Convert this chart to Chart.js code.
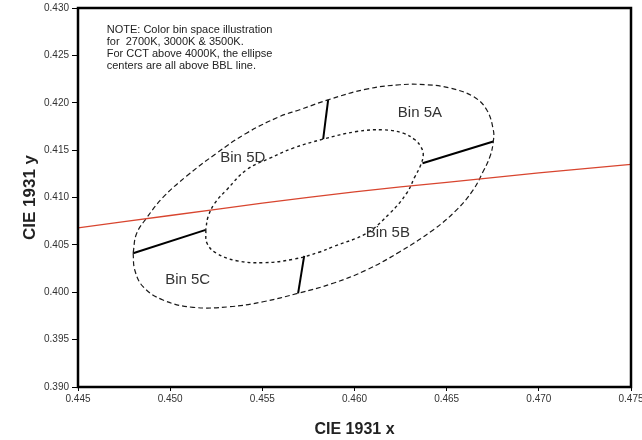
<!DOCTYPE html>
<html>
<head>
<meta charset="utf-8">
<script src="https://cdn.jsdelivr.net/npm/chart.js@4/dist/chart.umd.min.js"></script>
<style>
  html, body { margin: 0; padding: 0; background: #fff; }
  #wrap { width: 642px; height: 440px; }
</style>
</head>
<body>
<div id="wrap"><canvas id="c" width="642" height="440"></canvas></div>
<script>
// Black-body (Planckian) locus through this region of the CIE 1931 diagram
const bblX = [0.445, 0.450, 0.455, 0.460, 0.465, 0.470, 0.475];
const bblY = [0.4068, 0.4081, 0.4094, 0.4106, 0.4116, 0.4126, 0.4135];

// Outer ellipse outline (closed)
const outerX = [0.44799, 0.44808, 0.44853, 0.44961, 0.45124, 0.45323, 0.45504, 0.45694, 0.45884, 0.46065,
                0.46246, 0.46427, 0.46554, 0.46644, 0.46697, 0.46735, 0.46753, 0.46753, 0.46717, 0.46644,
                0.46518, 0.46391, 0.46246, 0.46065, 0.45857, 0.45703, 0.45595, 0.45414, 0.45251, 0.45088,
                0.44961, 0.44871, 0.44817, 0.44799];
const outerY = [0.40412, 0.40235, 0.40059, 0.39918, 0.39841, 0.39847, 0.39900, 0.39989, 0.40095, 0.40235,
                0.40428, 0.40658, 0.40869, 0.41080, 0.41271, 0.41432, 0.41591, 0.41714, 0.41926, 0.42066,
                0.42155, 0.42190, 0.42190, 0.42144, 0.42031, 0.41926, 0.41855, 0.41679, 0.41466, 0.41224,
                0.41001, 0.40781, 0.40615, 0.40412];

// Inner ellipse outline (closed)
const innerX = [0.45193, 0.45200, 0.45251, 0.45360, 0.45504, 0.45667, 0.45812, 0.45884, 0.46065, 0.46192,
                0.46283, 0.46328, 0.46355, 0.46373, 0.46360, 0.46328, 0.46264, 0.46156, 0.46011, 0.45830,
                0.45667, 0.45541, 0.45414, 0.45306, 0.45242, 0.45206, 0.45193];
const innerY = [0.40658, 0.40517, 0.40412, 0.40333, 0.40312, 0.40348, 0.40425, 0.40481, 0.40623, 0.40834,
                0.41045, 0.41221, 0.41323, 0.41450, 0.41535, 0.41609, 0.41679, 0.41714, 0.41696, 0.41616,
                0.41521, 0.41415, 0.41292, 0.41080, 0.40940, 0.40798, 0.40658];

// Bin dividers: [x0, y0, x1, y1]
const dividerLeft   = [0.44799, 0.40412, 0.45193, 0.40658];
const dividerTop    = [0.45857, 0.42031, 0.45830, 0.41616];
const dividerRight  = [0.46369, 0.41362, 0.46753, 0.41591];
const dividerBottom = [0.45694, 0.39989, 0.45727, 0.40383];

// Bin names and where they sit (data coordinates)
const binNames = ['Bin 5A', 'Bin 5B', 'Bin 5C', 'Bin 5D'];
const binNameX = [0.46355, 0.46181, 0.45095, 0.45394];
const binNameY = [0.41894, 0.40626, 0.40129, 0.41418];

// Note text, anchored at its top-left line
const noteLines = [
  'NOTE: Color bin space illustration',
  'for  2700K, 3000K & 3500K.',
  'For CCT above 4000K, the ellipse',
  'centers are all above BBL line.'
];
const noteX = 0.44656;
const noteY = 0.42771;

const FONT = "'Liberation Sans', Arial, Helvetica, sans-serif";

function pts(xs, ys) { return xs.map((x, i) => ({ x: x, y: ys[i] })); }
function seg(s) { return [{ x: s[0], y: s[1] }, { x: s[2], y: s[3] }]; }

const lineBase = { showLine: true, pointRadius: 0, pointHoverRadius: 0, fill: false };

const datasets = [
  Object.assign({}, lineBase, { label: 'BBL', data: pts(bblX, bblY), borderColor: '#d8452f', borderWidth: 1.3, tension: 0.3 }),
  Object.assign({}, lineBase, { label: 'outer', data: pts(outerX, outerY), borderColor: '#1a1a1a', borderWidth: 1.2, borderDash: [5, 3], tension: 0.4 }),
  Object.assign({}, lineBase, { label: 'inner', data: pts(innerX, innerY), borderColor: '#1a1a1a', borderWidth: 1.4, borderDash: [3, 3], tension: 0.4 }),
  Object.assign({}, lineBase, { label: 'd1', data: seg(dividerLeft), borderColor: '#000', borderWidth: 2 }),
  Object.assign({}, lineBase, { label: 'd2', data: seg(dividerTop), borderColor: '#000', borderWidth: 2 }),
  Object.assign({}, lineBase, { label: 'd3', data: seg(dividerRight), borderColor: '#000', borderWidth: 2 }),
  Object.assign({}, lineBase, { label: 'd4', data: seg(dividerBottom), borderColor: '#000', borderWidth: 2 })
];

// Frame around the plot plus the free text
const decorations = {
  id: 'decorations',
  afterDatasetsDraw(chart) {
    const { ctx, chartArea: a, scales: { x, y } } = chart;
    ctx.save();
    ctx.strokeStyle = '#000';
    ctx.lineWidth = 2.5;
    ctx.strokeRect(a.left, a.top, a.right - a.left, a.bottom - a.top);

    ctx.fillStyle = '#333';
    ctx.font = '15px ' + FONT;
    ctx.textAlign = 'center';
    ctx.textBaseline = 'middle';
    binNames.forEach((t, i) => {
      ctx.fillText(t, x.getPixelForValue(binNameX[i]), y.getPixelForValue(binNameY[i]));
    });

    ctx.fillStyle = '#222';
    ctx.font = '11px ' + FONT;
    ctx.textAlign = 'left';
    const nx = x.getPixelForValue(noteX);
    const ny = y.getPixelForValue(noteY);
    noteLines.forEach((t, i) => ctx.fillText(t, nx, ny + i * 12));
    ctx.restore();
  }
};

new Chart(document.getElementById('c'), {
  type: 'scatter',
  data: { datasets: datasets },
  options: {
    responsive: false,
    animation: false,
    devicePixelRatio: 1,
    layout: { padding: { top: 8, right: 11, left: 0, bottom: 0 } },
    plugins: { legend: { display: false }, tooltip: { enabled: false } },
    scales: {
      x: {
        type: 'linear',
        min: 0.445, max: 0.475,
        afterFit(s) { s.height = 53; s.paddingLeft = 0; s.paddingRight = 0; },
        ticks: {
          stepSize: 0.005,
          color: '#333',
          font: { family: FONT, size: 10 },
          padding: 2,
          maxRotation: 0,
          autoSkip: false,
          callback: v => v.toFixed(3)
        },
        grid: { drawOnChartArea: false, drawTicks: true, tickLength: 4, color: '#000' },
        border: { display: false },
        title: {
          display: true, text: 'CIE 1931 x', color: '#222',
          font: { family: FONT, size: 16, weight: 'bold' },
          padding: { top: 0, bottom: 1 }
        }
      },
      y: {
        type: 'linear',
        min: 0.390, max: 0.430,
        afterFit(s) { s.width = 78; s.paddingTop = 0; s.paddingBottom = 0; },
        ticks: {
          stepSize: 0.005,
          color: '#333',
          font: { family: FONT, size: 10 },
          padding: 3,
          autoSkip: false,
          callback: v => v.toFixed(3)
        },
        grid: { drawOnChartArea: false, drawTicks: true, tickLength: 6, color: '#000' },
        border: { display: false },
        title: {
          display: true, text: 'CIE 1931 y', color: '#222',
          font: { family: FONT, size: 17, weight: 'bold' },
          padding: { top: 20, bottom: 0 }
        }
      }
    }
  },
  plugins: [decorations]
});
</script>
</body>
</html>
